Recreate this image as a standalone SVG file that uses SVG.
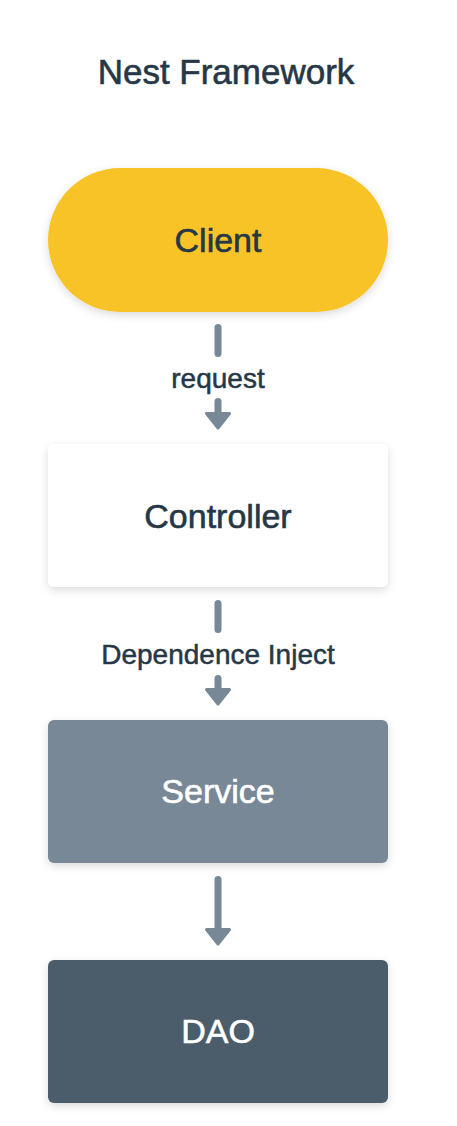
<svg xmlns="http://www.w3.org/2000/svg" width="457" height="1126" viewBox="0 0 457 1126">
<defs>
<filter id="sh" x="-20%" y="-20%" width="140%" height="150%">
<feDropShadow dx="0" dy="3" stdDeviation="4" flood-color="#000" flood-opacity="0.14"/>
</filter>
<style>
text{font-family:"Liberation Sans",Arial,sans-serif;text-anchor:middle;stroke-width:0.6;stroke-linejoin:round}
.t{font-size:35px;fill:#263746;stroke:#263746}
.n{font-size:34px}
.l{font-size:28px;fill:#263746;stroke:#263746;stroke-width:0.5}
.dark{fill:#263746;stroke:#263746}
.light{fill:#ffffff;stroke:#ffffff}
.stem{stroke:#788896;stroke-width:7;stroke-linecap:round;fill:none}
.head{fill:#788896;stroke:#788896;stroke-width:3;stroke-linejoin:round}
</style>
</defs>
<rect width="457" height="1126" fill="#ffffff"/>
<text class="t" x="226" y="84">Nest Framework</text>
<g id="client">
<rect x="48" y="168" width="340" height="144" rx="72" fill="#F7C325" filter="url(#sh)"/>
<text class="n dark" x="218" y="252">Client</text>
</g>
<g id="controller">
<rect x="48" y="444" width="340" height="143" rx="6" fill="#ffffff" filter="url(#sh)"/>
<text class="n dark" x="218" y="528">Controller</text>
</g>
<g id="service">
<rect x="48" y="720" width="340" height="143" rx="6" fill="#788896" filter="url(#sh)"/>
<text class="n light" x="218" y="803">Service</text>
</g>
<g id="dao">
<rect x="48" y="960" width="340" height="143" rx="6" fill="#4B5C6B" filter="url(#sh)"/>
<text class="n light" x="218" y="1043">DAO</text>
</g>
<g id="connectors">
<line class="stem" x1="218" y1="327.5" x2="218" y2="353.5"/>
<line class="stem" x1="218" y1="401.5" x2="218" y2="414"/>
<path class="head" d="M206.5 413.5 L229.5 413.5 L218 428 Z"/>
<text class="l" x="218" y="388">request</text>
<line class="stem" x1="218" y1="603.5" x2="218" y2="629.5"/>
<line class="stem" x1="218" y1="678.5" x2="218" y2="690"/>
<path class="head" d="M206.5 689.5 L229.5 689.5 L218 704 Z"/>
<text class="l" x="218" y="664">Dependence Inject</text>
<line class="stem" x1="218" y1="879.5" x2="218" y2="930"/>
<path class="head" d="M206.5 929.5 L229.5 929.5 L218 944 Z"/>
</g>
</svg>
